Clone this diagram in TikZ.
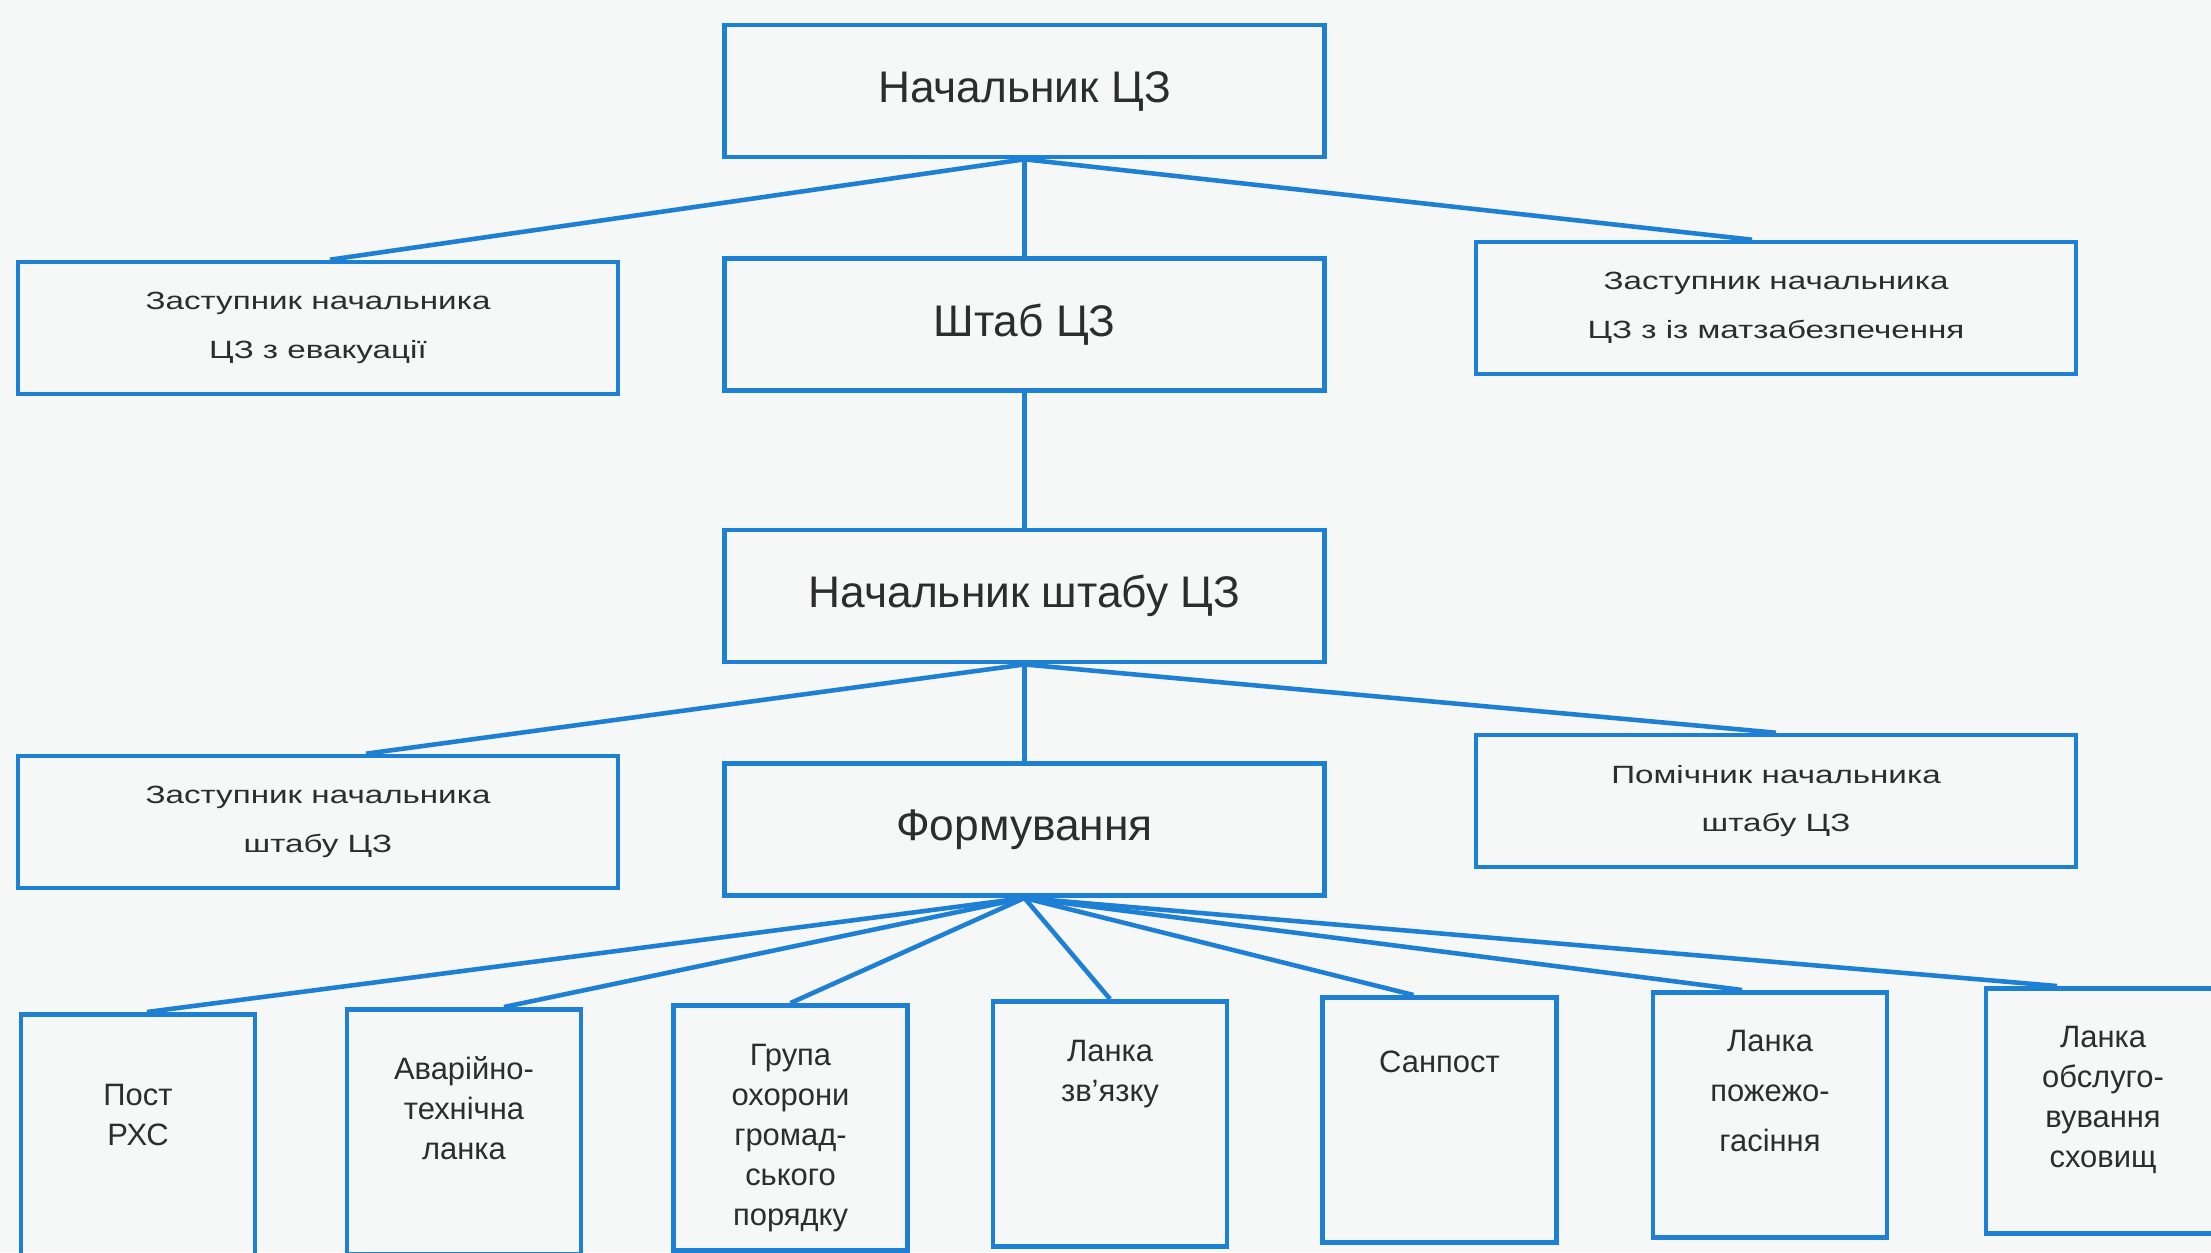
\documentclass[tikz,border=0pt]{standalone}
\usepackage{fontspec}
\setmainfont{Liberation Sans}
\newfontfamily\widefont{Liberation Sans}[FakeStretch=1.33]
\usetikzlibrary{positioning}
\definecolor{zsblue}{RGB}{30,128,212}
\definecolor{zsgrey}{RGB}{45,45,45}
\definecolor{zspaper}{RGB}{246,247,247}
\newcommand{\unitlabel}[2]{\parbox[c][2.45cm][t]{2.34cm}{\centering\vspace{#1}#2}}

\begin{document}
\begin{tikzpicture}[
    node distance=0.97cm,
    box/.style={rectangle, draw=zsblue, line width=1.3pt, text=zsgrey, inner sep=0pt},
    head/.style={box, minimum width=6cm, minimum height=1.32cm, align=center, font=\fontsize{12.6}{15}\selectfont},
    deputy/.style={box, minimum width=6cm, minimum height=1.32cm, align=center, font=\widefont\fontsize{7.1}{13.9}\selectfont},
    unit/.style={box, anchor=north, font=\fontsize{8.8}{11.4}\selectfont},
    link/.style={draw=zsblue, line width=1.3pt}
]
\fill[zspaper] (0,0) rectangle (22.11,-12.52);
\useasboundingbox (0,0) rectangle (22.11,-12.52);
\clip (0,0) rectangle (22.11,-12.52);

\node[head] (nach) at (10.245,-0.91) {Начальник ЦЗ};
\node[head, below=of nach] (shtab) {Штаб ЦЗ};
\node[head, below=1.35cm of shtab] (nshtab) {Начальник штабу ЦЗ};
\node[head, below=of nshtab] (form) {Формування};
\node[deputy] (zevak) at (3.18,-3.28) {Заступник начальника\\ЦЗ з евакуації};
\node[deputy] (zmat) at (17.76,-3.08) {Заступник начальника\\ЦЗ з із матзабезпечення};
\node[deputy] (zshtab) at (3.18,-8.22) {Заступник начальника\\штабу ЦЗ};
\node[deputy] (pomich) at (17.76,-8.01) {Помічник начальника\\штабу ЦЗ};

\node[unit] (post) at (1.38,-10.12) {\unitlabel{0.70cm}{Пост\\РХС}};
\node[unit] (avar) at (4.64,-10.07) {\unitlabel{0.47cm}{Аварійно-\\технічна\\ланка}};
\node[unit] (hrupa) at (7.905,-10.03) {\unitlabel{0.39cm}{Група\\охорони\\громад-\\ського\\порядку}};
\node[unit] (zviazok) at (11.10,-9.99) {\unitlabel{0.39cm}{Ланка\\зв’язку}};
\node[unit] (sanpost) at (14.395,-9.95) {\unitlabel{0.54cm}{Санпост}};
\node[unit] (pozhezh) at (17.70,-9.90) {\unitlabel{0.38cm}{Ланка\\[0.1cm]пожежо-\\[0.1cm]гасіння}};
\node[unit] (skhov) at (21.03,-9.86) {\unitlabel{0.38cm}{Ланка\\обслуго-\\вування\\сховищ}};

\draw[link] (nach.south) -- ([xshift=0.12cm]zevak.north);
\draw[link] (nach.south) -- (shtab.north);
\draw[link] (nach.south) -- ([xshift=-0.24cm]zmat.north);
\draw[link] (shtab.south) -- (nshtab.north);
\draw[link] (nshtab.south) -- ([xshift=0.48cm]zshtab.north);
\draw[link] (nshtab.south) -- (form.north);
\draw[link] (nshtab.south) -- (pomich.north);
\draw[link] (form.south) -- ([xshift=0.09cm]post.north);
\draw[link] (form.south) -- ([xshift=0.40cm]avar.north);
\draw[link] (form.south) -- (hrupa.north);
\draw[link] (form.south) -- (zviazok.north);
\draw[link] (form.south) -- ([xshift=-0.26cm]sanpost.north);
\draw[link] (form.south) -- ([xshift=-0.28cm]pozhezh.north);
\draw[link] (form.south) -- ([xshift=-0.46cm]skhov.north);
\end{tikzpicture}
\end{document}
